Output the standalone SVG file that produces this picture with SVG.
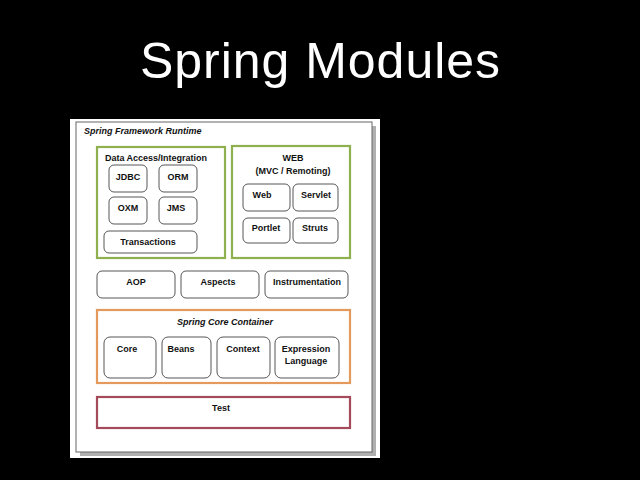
<svg xmlns="http://www.w3.org/2000/svg" width="640" height="480" viewBox="0 0 640 480">
<style>
.t{font-family:"Liberation Sans",Arial,sans-serif;font-weight:bold;font-size:9px;fill:#111;text-anchor:middle}
.ti{font-style:italic}
.m{fill:#fff;stroke:#444;stroke-width:0.9}
.g{fill:#fff;stroke:#8fb04f;stroke-width:2.2}
.o{fill:#fff;stroke:#e39a5c;stroke-width:2.2}
.r{fill:#fff;stroke:#a54a5a;stroke-width:2.2}
</style>
<rect width="640" height="480" fill="#000"/>
<text x="320" y="78" font-family="Helvetica,'Liberation Sans',Arial,sans-serif" font-size="50" fill="#fff" text-anchor="middle" textLength="360" lengthAdjust="spacing">Spring Modules</text>
<g id="panel">
<rect x="70" y="119" width="310" height="339" fill="#fff"/>
<rect x="80" y="126" width="296" height="330" fill="#b0b0b0"/>
<rect x="76" y="122" width="296" height="330" fill="#fff" stroke="#666" stroke-width="1"/>
<text class="t ti" x="84" y="134" style="text-anchor:start">Spring Framework Runtime</text>
</g>
<g id="data-access">
<rect class="g" x="97" y="147" width="128" height="111"/>
<text class="t" x="156" y="161">Data Access/Integration</text>
</g>
<g id="jdbc"><rect class="m" x="109" y="165" width="38" height="27" rx="5"/><text class="t" x="128" y="180">JDBC</text></g>
<g id="orm"><rect class="m" x="159" y="165" width="38" height="27" rx="5"/><text class="t" x="178" y="180">ORM</text></g>
<g id="oxm"><rect class="m" x="109" y="197" width="38" height="27" rx="5"/><text class="t" x="128" y="211">OXM</text></g>
<g id="jms"><rect class="m" x="159" y="197" width="38" height="27" rx="5"/><text class="t" x="176" y="211">JMS</text></g>
<g id="transactions"><rect class="m" x="104" y="231" width="93" height="22" rx="5"/><text class="t" x="148" y="245">Transactions</text></g>
<g id="web-group">
<rect class="g" x="232" y="146" width="118" height="112"/>
<text class="t" x="293" y="161">WEB</text>
<text class="t" x="293" y="174">(MVC / Remoting)</text>
</g>
<g id="web"><rect class="m" x="243" y="184" width="47" height="27" rx="5"/><text class="t" x="262" y="198">Web</text></g>
<g id="servlet"><rect class="m" x="293" y="184" width="45" height="27" rx="5"/><text class="t" x="316" y="198">Servlet</text></g>
<g id="portlet"><rect class="m" x="243" y="218" width="47" height="25" rx="5"/><text class="t" x="266" y="231">Portlet</text></g>
<g id="struts"><rect class="m" x="293" y="218" width="45" height="25" rx="5"/><text class="t" x="315" y="231">Struts</text></g>
<g id="aop"><rect class="m" x="97" y="271" width="78" height="27" rx="5"/><text class="t" x="136" y="285">AOP</text></g>
<g id="aspects"><rect class="m" x="181" y="271" width="78" height="27" rx="5"/><text class="t" x="218" y="285">Aspects</text></g>
<g id="instrumentation"><rect class="m" x="265" y="271" width="83" height="27" rx="5"/><text class="t" x="307" y="285">Instrumentation</text></g>
<g id="core-container">
<rect class="o" x="97" y="310" width="253" height="73"/>
<text class="t ti" x="225" y="325">Spring Core Container</text>
</g>
<g id="core"><rect class="m" x="104" y="337" width="52" height="41" rx="6"/><text class="t" x="127" y="352">Core</text></g>
<g id="beans"><rect class="m" x="162" y="337" width="49" height="41" rx="6"/><text class="t" x="181" y="352">Beans</text></g>
<g id="context"><rect class="m" x="217" y="337" width="53" height="41" rx="6"/><text class="t" x="243" y="352">Context</text></g>
<g id="expression"><rect class="m" x="275" y="337" width="64" height="41" rx="6"/><text class="t" x="306" y="352">Expression</text><text class="t" x="306" y="364">Language</text></g>
<g id="test"><rect class="r" x="97" y="397" width="253" height="31"/><text class="t" x="221" y="411">Test</text></g>
<g id="connectors"></g>
</svg>
